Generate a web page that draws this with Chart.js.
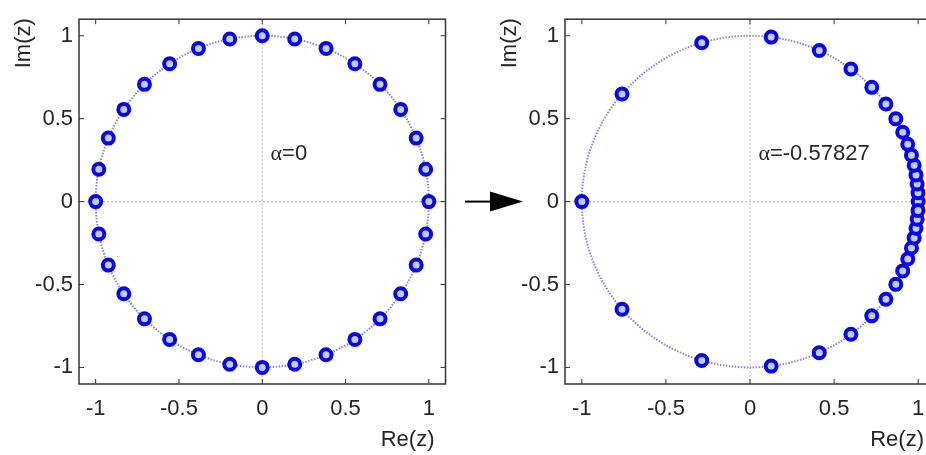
<!DOCTYPE html>
<html>
<head>
<meta charset="utf-8">
<script src="https://cdn.jsdelivr.net/npm/chart.js@4"></script>
<style>
  html, body { margin: 0; padding: 0; background: #fff; overflow: hidden; }
  #wrap { position: relative; width: 926px; height: 455px; overflow: hidden; }
  .panel { position: absolute; top: 0; height: 455px; overflow: hidden; }
  #leftBox { left: 0; width: 455px; }
  #rightBox { left: 455px; width: 471px; }
  canvas { display: block; }
</style>
</head>
<body>
<div id="wrap">
  <div class="panel" id="leftBox"><canvas id="left" width="455" height="455" style="width:455px;height:455px"></canvas></div>
  <div class="panel" id="rightBox"><canvas id="right" width="500" height="455" style="width:500px;height:455px"></canvas></div>
</div>
<script>
// 32 poles on the unit circle, before warping (alpha = 0)
const LEFT_RE = [1, 0.981, 0.924, 0.831, 0.707, 0.556, 0.383, 0.195, 0, -0.195, -0.383, -0.556, -0.707, -0.831, -0.924, -0.981,
                 -1, -0.981, -0.924, -0.831, -0.707, -0.556, -0.383, -0.195, 0, 0.195, 0.383, 0.556, 0.707, 0.831, 0.924, 0.981];
const LEFT_IM = [0, 0.195, 0.383, 0.556, 0.707, 0.831, 0.924, 0.981, 1, 0.981, 0.924, 0.831, 0.707, 0.556, 0.383, 0.195,
                 0, -0.195, -0.383, -0.556, -0.707, -0.831, -0.924, -0.981, -1, -0.981, -0.924, -0.831, -0.707, -0.556, -0.383, -0.195];

// same poles after the allpass warp (alpha = -0.57827)
const RIGHT_RE = [1, 0.999, 0.994, 0.987, 0.976, 0.960, 0.938, 0.908, 0.867, 0.808, 0.724, 0.600, 0.412, 0.126, -0.287, -0.761,
                  -1, -0.761, -0.287, 0.126, 0.412, 0.600, 0.724, 0.808, 0.867, 0.908, 0.938, 0.960, 0.976, 0.987, 0.994, 0.999];
const RIGHT_IM = [0, 0.053, 0.106, 0.161, 0.219, 0.280, 0.346, 0.418, 0.499, 0.589, 0.689, 0.800, 0.911, 0.992, 0.958, 0.649,
                  0, -0.649, -0.958, -0.992, -0.911, -0.800, -0.689, -0.589, -0.499, -0.418, -0.346, -0.280, -0.219, -0.161, -0.106, -0.053];

const TICKS = [-1, -0.5, 0, 0.5, 1];
const ALPHAS = ['0', '-0.57827'];

const FONT = '"Liberation Sans", Arial, sans-serif';
const FS = 22;

function framePlugin(alpha, withArrow) {
  return {
    id: 'frame',
    beforeDatasetsDraw(chart) {
      const { ctx, chartArea: a, scales: { x, y } } = chart;
      const cx = x.getPixelForValue(0), cy = y.getPixelForValue(0);
      ctx.save();
      ctx.beginPath();
      ctx.rect(a.left, a.top, a.right - a.left, a.bottom - a.top);
      ctx.clip();
      // dotted zero lines
      ctx.strokeStyle = '#c6c6c6';
      ctx.lineWidth = 1.2;
      ctx.setLineDash([2, 2]);
      ctx.beginPath();
      ctx.moveTo(a.left, cy); ctx.lineTo(a.right, cy);
      ctx.moveTo(cx, a.top); ctx.lineTo(cx, a.bottom);
      ctx.stroke();
      // dotted unit circle
      const rx = x.getPixelForValue(1) - cx, ry = cy - y.getPixelForValue(1);
      ctx.strokeStyle = 'rgba(95,95,210,0.75)';
      ctx.lineWidth = 2;
      ctx.setLineDash([1.5, 1.5]);
      ctx.beginPath();
      ctx.ellipse(cx, cy, rx, ry, 0, 0, Math.PI * 2);
      ctx.stroke();
      ctx.restore();
    },
    afterDraw(chart) {
      const { ctx, chartArea: a, scales: { x, y } } = chart;
      ctx.save();
      // axes box with inward ticks
      ctx.strokeStyle = '#333';
      ctx.lineWidth = 1.5;
      ctx.strokeRect(a.left, a.top, a.right - a.left, a.bottom - a.top);
      ctx.beginPath();
      TICKS.forEach(v => {
        const px = x.getPixelForValue(v), py = y.getPixelForValue(v);
        ctx.moveTo(px, a.bottom); ctx.lineTo(px, a.bottom - 5);
        ctx.moveTo(px, a.top); ctx.lineTo(px, a.top + 5);
        ctx.moveTo(a.left, py); ctx.lineTo(a.left + 5, py);
        ctx.moveTo(a.right, py); ctx.lineTo(a.right - 5, py);
      });
      ctx.lineWidth = 1;
      ctx.stroke();

      // axis titles
      ctx.fillStyle = '#262626';
      ctx.font = FS + 'px ' + FONT;
      ctx.textAlign = 'right';
      ctx.textBaseline = 'middle';
      ctx.fillText('Re(z)', a.right - 11, 440);
      ctx.save();
      ctx.translate(a.left - 55, a.top + 24);
      ctx.rotate(-Math.PI / 2);
      ctx.textAlign = 'center';
      ctx.fillText('Im(z)', 0, 0);
      ctx.restore();

      // alpha annotation
      const tx = x.getPixelForValue(0.05), ty = y.getPixelForValue(0.287);
      ctx.textAlign = 'left';
      ctx.font = FS + 'px "Liberation Serif", serif';
      ctx.fillText('α', tx, ty);
      const w = ctx.measureText('α').width;
      ctx.font = FS + 'px ' + FONT;
      ctx.fillText('=' + alpha, tx + w, ty);

      // arrow from the left panel into this one
      if (withArrow) {
        const ay = y.getPixelForValue(0);
        ctx.strokeStyle = '#000';
        ctx.lineWidth = 2;
        ctx.beginPath();
        ctx.moveTo(10, ay); ctx.lineTo(40, ay);
        ctx.stroke();
        ctx.fillStyle = '#000';
        ctx.beginPath();
        ctx.moveTo(35, ay - 10); ctx.lineTo(68, ay); ctx.lineTo(35, ay + 10);
        ctx.closePath();
        ctx.fill();
      }
      ctx.restore();
    }
  };
}

function makePlot(id, re, im, alpha, axisWidth, padRight, withArrow) {
  const tickFont = { family: FONT, size: FS };
  return new Chart(document.getElementById(id), {
    type: 'scatter',
    data: {
      datasets: [{
        data: re.map((v, i) => ({ x: v, y: im[i] })),
        pointRadius: 5.5,
        pointHoverRadius: 5.5,
        borderWidth: 4,
        borderColor: '#0808e4',
        backgroundColor: '#c4caf0'
      }]
    },
    options: {
      responsive: false,
      animation: false,
      events: [],
      layout: { padding: { top: 16, right: padRight, left: 0, bottom: 0 } },
      plugins: { legend: { display: false }, tooltip: { enabled: false } },
      scales: {
        x: {
          type: 'linear', min: -1.1, max: 1.1,
          afterBuildTicks: s => { s.ticks = TICKS.map(v => ({ value: v })); },
          afterFit: s => { s.height = 71; },
          grid: { display: false, drawTicks: false },
          border: { display: false },
          ticks: { font: tickFont, color: '#262626', padding: 12, callback: v => String(v) }
        },
        y: {
          type: 'linear', min: -1.1, max: 1.1,
          afterBuildTicks: s => { s.ticks = TICKS.map(v => ({ value: v })); },
          afterFit: s => { s.width = axisWidth; },
          grid: { display: false, drawTicks: false },
          border: { display: false },
          ticks: { font: tickFont, color: '#262626', padding: 6, callback: v => String(v) }
        }
      }
    },
    plugins: [framePlugin(alpha, withArrow)]
  });
}

makePlot('left', LEFT_RE, LEFT_IM, ALPHAS[0], 79, 6, false);
// the right panel's canvas is wider than its clipping box, so its frame runs past the page edge
makePlot('right', RIGHT_RE, RIGHT_IM, ALPHAS[1], 110, 20, true);
</script>
</body>
</html>
